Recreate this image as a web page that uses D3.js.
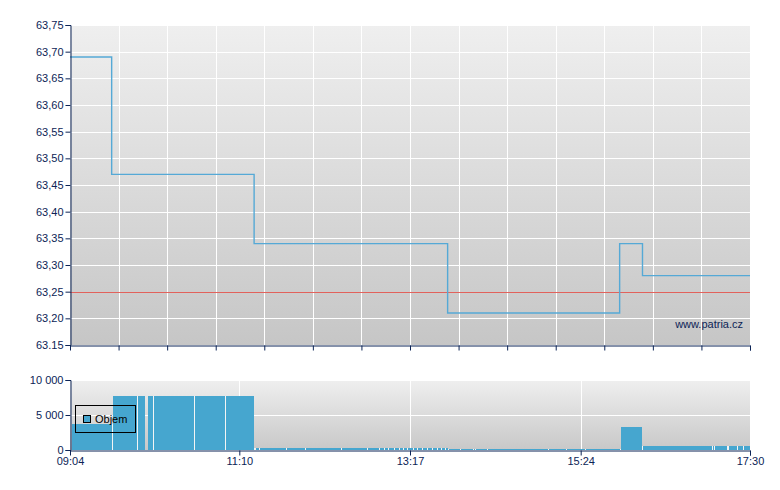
<!DOCTYPE html>
<html><head><meta charset="utf-8">
<script src="https://cdn.jsdelivr.net/npm/d3@7"></script>
<style>
html,body{margin:0;padding:0;background:#fff;}
svg text{font-family:"Liberation Sans",Arial,sans-serif;font-size:11px;}
</style></head>
<body>
<svg id="chart" width="780" height="490"></svg>
<script>
// ---- data ----
const priceTimes = ["09:04","09:35","11:21","13:45","15:53","16:10","17:30"];
const priceValues = [63.69,63.47,63.34,63.21,63.34,63.28,63.28];
const referencePrice = 63.25;
const priceTickValues = [63.15,63.20,63.25,63.30,63.35,63.40,63.45,63.50,63.55,63.60,63.65,63.70,63.75];
const priceTickLabels = ["63.15","63,20","63,25","63,30","63,35","63,40","63,45","63,50","63,55","63,60","63,65","63,70","63,75"];

const volTimes = ["09:05","09:35","09:54","10:00","10:01","10:06","10:36","10:59",
  "11:21","11:22","11:25","11:45","11:59","12:26","12:45","12:54","12:58","13:01","13:05","13:09",
  "13:12","13:15","13:19","13:22","13:26","13:30","13:33","13:37","13:40","13:43",
  "13:45","13:54","14:04","14:05","14:14","15:00","15:13","15:27",
  "15:53","16:10","17:02","17:03","17:13","17:14","17:20","17:25"];
const volValues = [3750,7750,7750,0,7750,7750,7750,7750,
  300,300,300,300,300,300,300,300,300,300,300,300,
  300,300,300,300,300,300,300,300,300,300,
  150,150,150,150,150,150,150,150,
  3300,600,600,600,600,600,600,600];
const volTickValues = [0,5000,10000];
const volTickLabels = ["0","5 000","10 000"];
const timeTickLabels = ["09:04","11:10","13:17","15:24","17:30"];
const sessionStart = "09:04", sessionEnd = "17:30";
const legendLabel = "Objem";
const watermark = "www.patria.cz";

// ---- helpers ----
const parse = s => { const [h,m] = s.split(":").map(Number); return h*60+m; };
const navy = "#0c2456";
const svg = d3.select("#chart");
const L = 70, R = 750;
const top1 = 25, bot1 = 345, top2 = 380, bot2 = 450;

const x = d3.scaleLinear().domain([parse(sessionStart), parse(sessionEnd)]).range([L, R]);
const y = d3.scaleLinear().domain([63.15, 63.75]).range([bot1, top1]);
const yv = d3.scaleLinear().domain([0, 10000]).range([bot2, top2]);

const defs = svg.append("defs");
function grad(id, c1, c2){
  const g = defs.append("linearGradient").attr("id", id).attr("x1",0).attr("y1",0).attr("x2",0).attr("y2",1);
  g.append("stop").attr("offset","0%").attr("stop-color",c1);
  g.append("stop").attr("offset","100%").attr("stop-color",c2);
}
grad("bg1","#efefef","#c6c6c6");
grad("bg2","#efefef","#c8c8c8");

// ---- top panel ----
svg.append("rect").attr("x",L).attr("y",top1).attr("width",R-L).attr("height",bot1-top1).attr("fill","url(#bg1)");

const g1 = svg.append("g");
// horizontal grid
g1.selectAll("line.hg").data(priceTickValues).join("line")
  .attr("x1",L).attr("x2",R).attr("y1",d=>Math.round(y(d))+0.5).attr("y2",d=>Math.round(y(d))+0.5)
  .attr("stroke","#fff").attr("stroke-width",1);
// vertical grid (14 equal divisions)
const vDiv = d3.range(15).map(i => parse(sessionStart) + i*(parse(sessionEnd)-parse(sessionStart))/14);
g1.selectAll("line.vg").data(vDiv.slice(1,-1)).join("line")
  .attr("x1",d=>Math.round(x(d))+0.5).attr("x2",d=>Math.round(x(d))+0.5).attr("y1",top1).attr("y2",bot1)
  .attr("stroke","#fff").attr("stroke-width",1);

// reference line
g1.append("line").attr("x1",L).attr("x2",R)
  .attr("y1",Math.round(y(referencePrice))+0.5).attr("y2",Math.round(y(referencePrice))+0.5)
  .attr("stroke","#e2625c").attr("stroke-width",1.2);

// price line
const pdata = priceTimes.map((t,i)=>({t:parse(t), v:priceValues[i]}));
g1.append("path").datum(pdata)
  .attr("d", d3.line().x(d=>x(d.t)).y(d=>y(d.v)).curve(d3.curveStepAfter))
  .attr("fill","none").attr("stroke","#55a9d6").attr("stroke-width",1.4);

// watermark
svg.append("text").attr("x",743).attr("y",328).attr("text-anchor","end").attr("fill",navy).text(watermark);

// axes top
const ay1 = d3.axisLeft(y).tickValues(priceTickValues).tickSize(5).tickPadding(2)
  .tickFormat((d,i)=>priceTickLabels[i]);
const gy1 = svg.append("g").attr("transform",`translate(${L+0.5},0)`).call(ay1);
const ax1 = d3.axisBottom(x).tickValues(vDiv).tickSize(5).tickFormat("");
const gx1 = svg.append("g").attr("transform",`translate(0,${bot1+0.5})`).call(ax1);

// ---- bottom panel ----
svg.append("rect").attr("x",L).attr("y",top2).attr("width",R-L).attr("height",bot2-top2).attr("fill","url(#bg2)");
const g2 = svg.append("g");
g2.selectAll("line.hg").data(volTickValues.slice(1)).join("line")
  .attr("x1",L).attr("x2",R).attr("y1",d=>Math.round(yv(d))+0.5).attr("y2",d=>Math.round(yv(d))+0.5)
  .attr("stroke","#fff");
const timeTicks = timeTickLabels.map(parse);
g2.selectAll("line.vg").data(timeTicks.slice(1,-1)).join("line")
  .attr("x1",d=>Math.round(x(d))+0.5).attr("x2",d=>Math.round(x(d))+0.5).attr("y1",top2).attr("y2",bot2)
  .attr("stroke","#fff");

const vdata = volTimes.map((t,i)=>({t:parse(t), v:volValues[i], t1: i<volTimes.length-1 ? parse(volTimes[i+1]) : parse(sessionEnd), pv: i>0 ? volValues[i-1] : 0}));
g2.selectAll("rect.bar").data(vdata.filter(d=>d.v>0)).join("rect")
  .attr("x",d=>x(d.t)+1).attr("width",d=>Math.max(0,x(d.t1)-x(d.t)-1))
  .attr("y",d=>yv(d.v)).attr("height",d=>yv(0)-yv(d.v))
  .attr("fill","#46a6cf").attr("shape-rendering","crispEdges");
g2.selectAll("line.sep").data(vdata.filter(d=>d.v>0 && d.pv>0)).join("line")
  .attr("x1",d=>x(d.t)+0.5).attr("x2",d=>x(d.t)+0.5)
  .attr("y1",d=>yv(Math.min(d.v,d.pv))).attr("y2",yv(0))
  .attr("stroke","#f4f4f4").attr("stroke-width",1).attr("shape-rendering","crispEdges");

// legend
const lg = svg.append("g");
lg.append("rect").attr("x",75.5).attr("y",405.5).attr("width",60).attr("height",27)
  .attr("fill","none").attr("stroke","#000").attr("stroke-width",1);
lg.append("rect").attr("x",83.5).attr("y",415.5).attr("width",7).attr("height",7)
  .attr("fill","#46a6cf").attr("stroke","#000").attr("stroke-width",1);
lg.append("text").attr("x",95).attr("y",423).attr("fill","#000").text(legendLabel);

// axes bottom
const ay2 = d3.axisLeft(yv).tickValues(volTickValues).tickSize(5).tickPadding(2)
  .tickFormat((d,i)=>volTickLabels[i]);
svg.append("g").attr("transform",`translate(${L+0.5},0)`).call(ay2);
const ax2 = d3.axisBottom(x).tickValues(timeTicks).tickSize(5).tickPadding(2)
  .tickFormat((d,i)=>timeTickLabels[i]);
svg.append("g").attr("transform",`translate(0,${bot2+0.5})`).call(ax2);

// style axes
svg.selectAll(".domain").attr("stroke",navy).attr("stroke-width",1);
svg.selectAll(".tick line").attr("stroke",navy);
svg.selectAll(".tick text").attr("fill",navy).style("font-size","11px").style("font-family",'"Liberation Sans",Arial,sans-serif');
svg.selectAll(".domain").each(function(){ // remove outer tick stubs by redrawing domain as plain line
  const p = d3.select(this);
  const d = p.attr("d");
  p.attr("d", d.replace(/^M([\d.\-]+),([\d.\-]+)V([\d.\-]+)/, "M$1,$3").replace(/^M([\d.\-]+),([\d.\-]+)H([\d.\-]+)V([\d.\-]+)H([\d.\-]+)V([\d.\-]+)$/, "M$1,$4H$5"));
});
</script>
</body></html>
